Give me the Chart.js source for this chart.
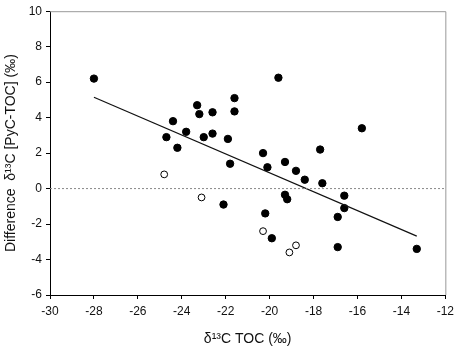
<!DOCTYPE html>
<html>
<head>
<meta charset="utf-8">
<script src="https://cdn.jsdelivr.net/npm/chart.js@4"></script>
<style>
  html, body { margin: 0; padding: 0; background: #fff; }
  #wrap { width: 459px; height: 348px; }
</style>
</head>
<body>
<div id="wrap"><canvas id="chart" width="459" height="348"></canvas></div>
<script>
// filled circles
var filledX = [-28.0, -19.6, -23.3, -23.2, -21.6, -21.6, -22.6, -24.4, -23.8, -24.7, -23.0,
    -22.6, -24.2, -21.9, -21.8, -22.1, -20.3, -20.1, -20.2, -19.9, -19.3, -19.3, -19.2,
    -18.8, -18.4, -17.7, -17.6, -16.6, -16.6, -16.9, -16.9, -15.8, -13.3];
var filledY = [6.2, 6.25, 4.7, 4.2, 5.1, 4.35, 4.3, 3.8, 3.2, 2.9, 2.9,
    3.1, 2.3, 2.8, 1.4, -0.9, 2.0, 1.2, -1.4, -2.8, 1.5, -0.35, -0.6,
    1.0, 0.5, 2.2, 0.3, -0.4, -1.1, -1.6, -3.3, 3.4, -3.4];
// open circles
var openX = [-24.8, -23.1, -20.3, -19.1, -18.8];
var openY = [0.8, -0.5, -2.4, -3.6, -3.2];
// regression line end points
var fitX = [-28.0, -13.3];
var fitY = [5.15, -2.68];
var xTicks = [-30, -28, -26, -24, -22, -20, -18, -16, -14, -12];
var yTicks = [-6, -4, -2, 0, 2, 4, 6, 8, 10];

function pairs(xs, ys) {
    return xs.map(function (x, i) { return {x: x, y: ys[i]}; });
}

// grey top and right frame
var frame = {
    id: 'frame',
    afterDatasetsDraw: function (chart) {
        var a = chart.chartArea, ctx = chart.ctx;
        ctx.save();
        ctx.strokeStyle = '#999';
        ctx.lineWidth = 1;
        ctx.beginPath();
        ctx.moveTo(a.left, a.top + 0.5);
        ctx.lineTo(a.right + 0.5, a.top + 0.5);
        ctx.lineTo(a.right + 0.5, a.bottom);
        ctx.stroke();
        ctx.restore();
    }
};

var font = {family: '"Liberation Sans", Arial, sans-serif', size: 12};

new Chart(document.getElementById('chart'), {
    type: 'scatter',
    data: {
        datasets: [{
            type: 'line',
            data: pairs([xTicks[0], xTicks[xTicks.length - 1]], [0, 0]),
            borderColor: '#888',
            borderWidth: 1,
            borderDash: [2, 2],
            pointRadius: 0
        }, {
            type: 'line',
            data: pairs(fitX, fitY),
            borderColor: '#111',
            borderWidth: 1.2,
            pointRadius: 0
        }, {
            data: pairs(filledX, filledY),
            pointRadius: 3.7,
            backgroundColor: '#000',
            borderColor: '#000',
            borderWidth: 1
        }, {
            data: pairs(openX, openY),
            pointRadius: 3.4,
            backgroundColor: '#fff',
            borderColor: '#000',
            borderWidth: 1
        }]
    },
    options: {
        responsive: false,
        animation: false,
        layout: {padding: {top: 9, right: 12, left: 0, bottom: 0}},
        plugins: {legend: {display: false}, tooltip: {enabled: false}},
        scales: {
            x: {
                type: 'linear',
                min: -30,
                max: -12,
                afterBuildTicks: function (s) { s.ticks = xTicks.map(function (v) { return {value: v}; }); },
                afterFit: function (s) { s.height = 53; },
                grid: {drawOnChartArea: false, tickLength: 4, color: '#000'},
                border: {color: '#000'},
                ticks: {color: '#111', font: font, padding: 5, maxRotation: 0},
                title: {display: true, text: 'δ¹³C TOC (‰)', color: '#111',
                    font: {family: font.family, size: 14}, padding: {top: 8, bottom: 0}}
            },
            y: {
                min: -6,
                max: 10,
                afterBuildTicks: function (s) { s.ticks = yTicks.map(function (v) { return {value: v}; }); },
                afterFit: function (s) { s.width = 50; },
                grid: {drawOnChartArea: false, tickLength: 4, color: '#000'},
                border: {color: '#000'},
                ticks: {color: '#111', font: font, padding: 4},
                title: {display: true, text: 'Difference  δ¹³C [PyC-TOC] (‰)', color: '#111',
                    font: {family: font.family, size: 14}, padding: {top: 3, bottom: 0}}
            }
        }
    },
    plugins: [frame]
});
</script>
</body>
</html>
